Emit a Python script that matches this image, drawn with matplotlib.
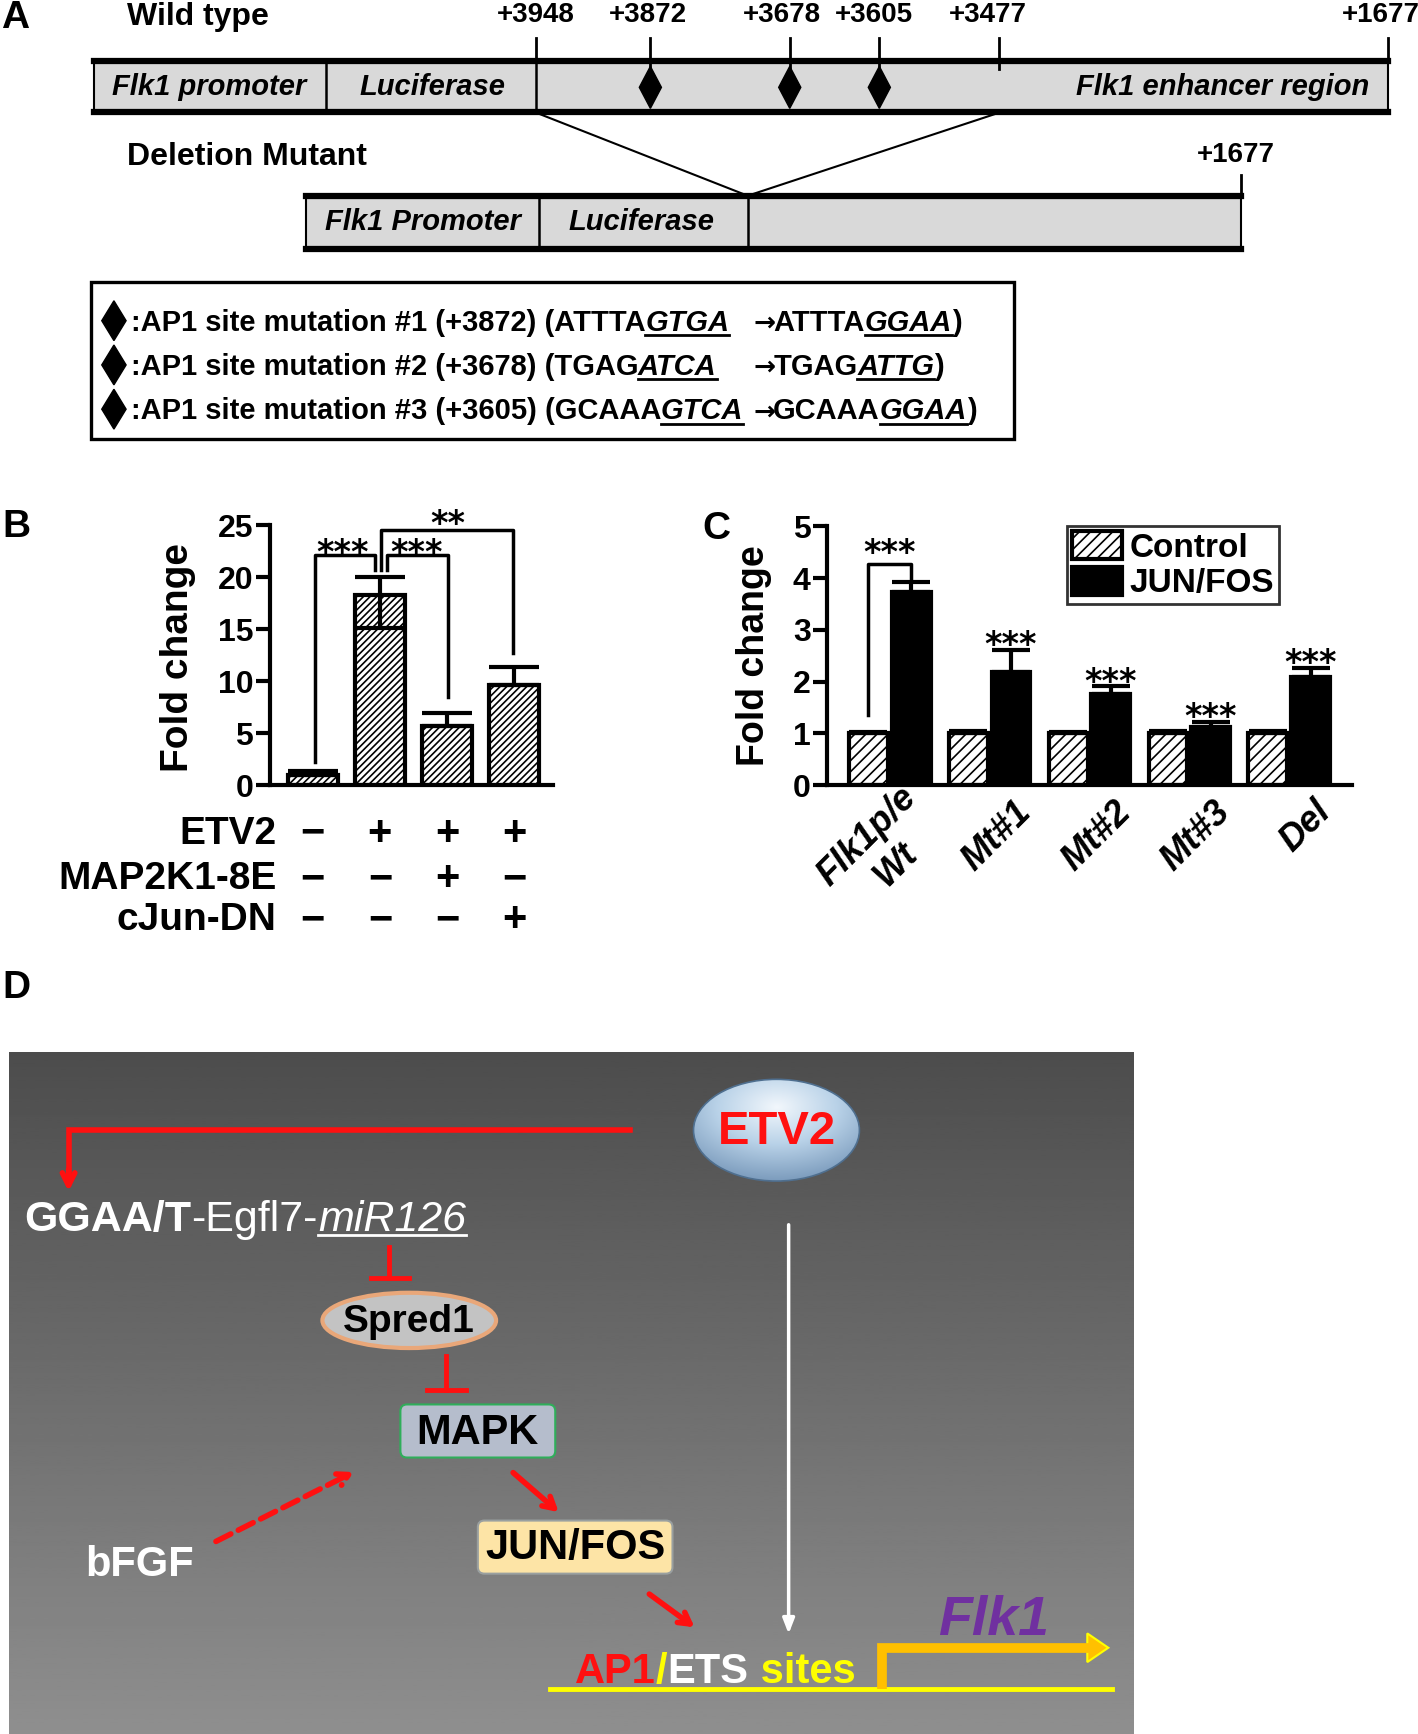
import numpy as np
import matplotlib
matplotlib.use("Agg")
import matplotlib.pyplot as plt
from matplotlib.patches import Rectangle, Polygon, Ellipse, FancyBboxPatch
from matplotlib.colors import LinearSegmentedColormap
from matplotlib.transforms import blended_transform_factory

plt.rcParams['font.family'] = ['Liberation Sans', 'DejaVu Sans']
plt.rcParams['hatch.linewidth'] = 1.2

# ---- data ----
# panel A: construct sites (labels) and AP1 mutations
wt_sites = ['+3948', '+3872', '+3678', '+3605', '+3477', '+1677']
ap1_sites = ['+3872', '+3678', '+3605']
mutations = [
    ('#1', '+3872', 'ATTTA', 'GTGA', 'ATTTA', 'GGAA'),
    ('#2', '+3678', 'TGAG', 'ATCA', 'TGAG', 'ATTG'),
    ('#3', '+3605', 'GCAAA', 'GTCA', 'GCAAA', 'GGAA'),
]

# panel B
b_values = [1.0, 18.3, 5.7, 9.6]
b_err_up = [0.4, 1.7, 1.2, 1.8]
b_err_down = [0.0, 3.2, 0.0, 0.0]
b_rows = ['ETV2', 'MAP2K1-8E', 'cJun-DN']
b_signs = [['\u2212', '+', '+', '+'],
           ['\u2212', '\u2212', '+', '\u2212'],
           ['\u2212', '\u2212', '\u2212', '+']]

# panel C
c_groups = ['Flk1p/e\nWt', 'Mt#1', 'Mt#2', 'Mt#3', 'Del']
c_control = [1.0, 1.0, 1.0, 1.0, 1.0]
c_control_err = [0.03, 0.05, 0.02, 0.05, 0.05]
c_junfos = [3.73, 2.18, 1.76, 1.13, 2.09]
c_junfos_err = [0.2, 0.43, 0.15, 0.1, 0.18]

# ---- figure, overlay axes in reference pixel units ----
W, H = 1282, 1568
fig = plt.figure(figsize=(14.18, 17.34), dpi=100)
ax0 = fig.add_axes([0, 0, 1, 1])
ax0.set_xlim(0, W)
ax0.set_ylim(H, 0)
ax0.axis('off')


def rect(l, t, r, b):
    return [l / W, 1 - b / H, (r - l) / W, (b - t) / H]


renderer = fig.canvas.get_renderer()


def chain(x, y, parts, size):
    inv = ax0.transData.inverted()
    for s, style, under in parts:
        t = ax0.text(x, y, s, fontsize=size, ha='left', va='baseline', **style)
        bb = t.get_window_extent(renderer=renderer)
        x_end = inv.transform((bb.x1, bb.y0))[0]
        if under:
            ax0.plot([x, x_end], [y + 4, y + 4], color=style.get('color', 'black'), lw=2)
        x = x_end
    return x


def diamond(x, yc, hw, hh):
    ax0.add_patch(Polygon([(x, yc - hh), (x + hw, yc), (x, yc + hh), (x - hw, yc)],
                          closed=True, fc='black', ec='black'))


def construct(x0, x1, y0, y1, dividers):
    ax0.add_patch(Rectangle((x0, y0), x1 - x0, y1 - y0, fc='#d9d9d9', ec='black', lw=1.5))
    for yy in (y0, y1):
        ax0.plot([x0, x1], [yy, yy], color='black', lw=4.5, solid_capstyle='projecting')
    for d in dividers:
        ax0.plot([d, d], [y0, y1], color='black', lw=1.8)


# ---- panel A ----
bold = dict(fontweight='bold')
bi = dict(fontweight='bold', fontstyle='italic')
ax0.text(14, 16, 'A', fontsize=28, ha='center', va='center', **bold)
ax0.text(115, 15, 'Wild type', fontsize=23, ha='left', va='center', **bold)

construct(85, 1255, 55, 101, [295, 485])
site_x = [485, 588, 714, 795, 903, 1255]
site_bottom = [55, 62, 62, 62, 62, 55]
label_x = [484, 586, 707, 790, 893, 1248]
for s, x, yb, lx in zip(wt_sites, site_x, site_bottom, label_x):
    ax0.plot([x, x], [34, yb], color='black', lw=2)
    ax0.text(lx, 14, s, fontsize=20, ha='center', va='center', **bold)
for s in ap1_sites:
    diamond(site_x[wt_sites.index(s)], 79, 10, 19)
ax0.text(189, 79, 'Flk1 promoter', fontsize=21, ha='center', va='center', **bi)
ax0.text(391, 79, 'Luciferase', fontsize=21, ha='center', va='center', **bi)
ax0.text(1238, 79, 'Flk1 enhancer region', fontsize=21, ha='right', va='center', **bi)

ax0.plot([485, 676, 903], [102, 177, 102], color='black', lw=1.5)
ax0.text(115, 142, 'Deletion Mutant', fontsize=23, ha='left', va='center', **bold)
ax0.text(1117, 140, wt_sites[-1], fontsize=20, ha='center', va='center', **bold)
ax0.plot([1122, 1122], [158, 177], color='black', lw=2)
construct(277, 1122, 177, 225, [487, 676])
ax0.text(382, 201, 'Flk1 Promoter', fontsize=21, ha='center', va='center', **bi)
ax0.text(580, 201, 'Luciferase', fontsize=21, ha='center', va='center', **bi)

ax0.add_patch(Rectangle((82, 255), 835, 142, fc='white', ec='black', lw=2.4))
arrow_style = dict(fontweight='bold', family='DejaVu Sans')
for i, (num, pos, pre, mut_a, pre2, mut_b) in enumerate(mutations):
    yc = 290 + 40 * i
    yb = yc + 9
    diamond(103, yc, 11, 18)
    x = chain(118, yb, [(':AP1 site mutation %s (%s) (%s' % (num, pos, pre), bold, False),
                        (mut_a, bi, True)], 21)
    x = max(x + 4, 681)
    x = chain(x, yb, [('\u2192', arrow_style, False)], 19)
    chain(x - 2, yb, [(pre2, bold, False), (mut_b, bi, True), (')', bold, False)], 21)

# ---- panel B ----
ax0.text(15, 477, 'B', fontsize=28, ha='center', va='center', **bold)
axb = fig.add_axes(rect(244, 475, 500, 710))
axb.set_facecolor('none')
xb = np.arange(len(b_values))
axb.bar(xb, b_values, width=0.74, color='white', edgecolor='black', lw=3,
        hatch='/////', zorder=2)
axb.errorbar(xb, b_values, yerr=[b_err_down, b_err_up], fmt='none', ecolor='black',
             elinewidth=3, capsize=18, capthick=3, zorder=3)
axb.set_xlim(-0.64, 3.58)
axb.set_ylim(0, 25)
axb.set_yticks([0, 5, 10, 15, 20, 25])
axb.set_xticks([])
for sp in ('top', 'right'):
    axb.spines[sp].set_visible(False)
for sp in ('left', 'bottom'):
    axb.spines[sp].set_linewidth(3)
axb.tick_params(axis='y', length=10, width=3, labelsize=23, pad=2)
for lab in axb.get_yticklabels():
    lab.set_fontweight('bold')
axb.set_ylabel('Fold change', fontsize=28, fontweight='bold')
axb.yaxis.set_label_coords(-0.26, 0.49)

bk = dict(color='black', lw=2.5, clip_on=False)
axb.plot([0.036, 0.036, 0.93, 0.93], [2.2, 22.1, 22.1, 20.7], **bk)
axb.plot([1.11, 1.11, 2.01, 2.01], [20.7, 22.1, 22.1, 8.5], **bk)
axb.plot([1.01, 1.01, 2.99, 2.99], [20.7, 24.5, 24.5, 12.7], **bk)
star = dict(fontsize=24, fontweight='bold', family='DejaVu Sans', ha='center',
            va='center', clip_on=False)
axb.text(0.45, 22.3, '***', **star)
axb.text(1.55, 22.3, '***', **star)
axb.text(2.01, 25.1, '**', **star)

trb = blended_transform_factory(axb.transData, ax0.transData)
for r, (row, signs) in enumerate(zip(b_rows, b_signs)):
    yy = [754, 795, 832][r]
    ax0.text(250, yy, row, fontsize=28, ha='right', va='center', **bold)
    for xi, s in zip(xb, signs):
        axb.text(xi, yy, s, transform=trb, fontsize=30, ha='center', va='center',
                 fontweight='bold', clip_on=False)

# ---- panel C ----
ax0.text(648, 478, 'C', fontsize=28, ha='center', va='center', **bold)
axc = fig.add_axes(rect(748, 476, 1222, 710))
axc.set_facecolor('none')
xc = np.arange(len(c_groups))
off = 0.214
axc.bar(xc - off, c_control, width=0.39, color='white', edgecolor='black', lw=3,
        hatch='///', label='Control', zorder=2)
axc.bar(xc + off, c_junfos, width=0.39, color='black', edgecolor='black', lw=3,
        label='JUN/FOS', zorder=2)
axc.errorbar(xc - off, c_control, yerr=[[0] * 5, c_control_err], fmt='none', ecolor='black',
             elinewidth=3, capsize=14, capthick=3, zorder=3)
axc.errorbar(xc + off, c_junfos, yerr=[[0] * 5, c_junfos_err], fmt='none', ecolor='black',
             elinewidth=3, capsize=14, capthick=3, zorder=3)
axc.set_xlim(-0.625, 4.625)
axc.set_ylim(0, 5)
axc.set_yticks([0, 1, 2, 3, 4, 5])
axc.set_xticks([])
for sp in ('top', 'right'):
    axc.spines[sp].set_visible(False)
for sp in ('left', 'bottom'):
    axc.spines[sp].set_linewidth(3)
axc.tick_params(axis='y', length=10, width=3, labelsize=23, pad=2)
for lab in axc.get_yticklabels():
    lab.set_fontweight('bold')
axc.set_ylabel('Fold change', fontsize=27, fontweight='bold')
axc.yaxis.set_label_coords(-0.105, 0.5)
for g, lab in zip(xc, c_groups):
    axc.text(g + 0.36, -0.42, lab, rotation=45, rotation_mode='anchor', ha='right',
             va='center', multialignment='center', fontsize=26, fontweight='bold',
             fontstyle='italic', clip_on=False)
axc.plot([-off, -off, off, off], [1.35, 4.27, 4.27, 4.01], **bk)
axc.text(0, 4.47, '***', **star)
for g in xc[1:]:
    axc.text(g + off, c_junfos[g] + c_junfos_err[g] + 0.08, '***', **star)
leg = axc.legend(loc='upper left', bbox_to_anchor=(0.458, 1.0), frameon=True,
                 fancybox=False, edgecolor='black', handlelength=1.5, handleheight=0.9,
                 handletextpad=0.2, borderpad=0.15, labelspacing=0.1, borderaxespad=0,
                 prop=dict(size=24, weight='bold'))
leg.get_frame().set_linewidth(2)

# ---- panel D ----
ax0.text(15, 893, 'D', fontsize=28, ha='center', va='center', **bold)
grad = np.linspace(0.30, 0.56, 256).reshape(-1, 1)
ax0.imshow(grad, cmap='gray', vmin=0, vmax=1, extent=(8, 1025, 1568, 952),
           aspect='auto', origin='upper', zorder=0)

red = '#ff1010'
ax0.plot([570, 62, 62], [1022, 1022, 1060], color=red, lw=4, solid_joinstyle='miter')
ax0.annotate('', xy=(62, 1080), xytext=(62, 1055),
             arrowprops=dict(arrowstyle='->,head_length=0.9,head_width=0.45', color=red, lw=4))

# ETV2 sphere with a soft radial shading
ell = Ellipse((702, 1022), 150, 92, fc='none', ec='#4f6f8f', lw=1.2, zorder=4)
ax0.add_patch(ell)
yy, xx = np.mgrid[-1:1:200j, -1:1:200j]
shade = np.clip(np.sqrt(xx ** 2 + (yy + 0.45) ** 2) / 1.45, 0, 1)
sphere = LinearSegmentedColormap.from_list('sphere', ['#f2f7fc', '#b9d2e8', '#7c9cbd'])
im = ax0.imshow(shade, cmap=sphere, vmin=0, vmax=1, extent=(627, 777, 1068, 976),
                aspect='auto', origin='upper', zorder=3)
im.set_clip_path(ell)
ax0.text(702, 1024, 'ETV2', fontsize=34, color=red, ha='center', va='center', zorder=5, **bold)
ax0.set_xlim(0, W)
ax0.set_ylim(H, 0)

chain(22, 1113, [('GGAA/T', dict(color='white', fontweight='bold'), False),
                 ('-Egfl7-', dict(color='white'), False),
                 ('miR126', dict(color='white', fontstyle='italic'), True)], 31)

inh = dict(color=red, lw=3.5)
ax0.plot([352, 352], [1128, 1156], **inh)
ax0.plot([335, 370], [1156, 1156], **inh)
ax0.add_patch(Ellipse((370, 1194), 157, 50, fc='#c3c3c3', ec='#e9a779', lw=3, zorder=3))
ax0.text(370, 1195, 'Spred1', fontsize=28, ha='center', va='center', zorder=4, **bold)
ax0.plot([403, 403], [1226, 1257], **inh)
ax0.plot([386, 421], [1257, 1257], **inh)

ax0.add_patch(FancyBboxPatch((362, 1270), 140, 48, boxstyle='round,pad=0,rounding_size=6',
                             fc='#b5bdcc', ec='#2fae5a', lw=1.5, zorder=3))
ax0.text(432, 1296, 'MAPK', fontsize=30, ha='center', va='center', zorder=4, **bold)
ax0.add_patch(FancyBboxPatch((432, 1375), 176, 48, boxstyle='round,pad=0,rounding_size=6',
                             fc='#fde4a6', ec='#9aa0a0', lw=1.5, zorder=3))
ax0.text(520, 1400, 'JUN/FOS', fontsize=30, ha='center', va='center', zorder=4, **bold)

arr = dict(arrowstyle='->,head_length=0.8,head_width=0.45', color=red, lw=4)
ax0.annotate('', xy=(507, 1369), xytext=(462, 1330), arrowprops=arr)
ax0.annotate('', xy=(630, 1473), xytext=(585, 1440), arrowprops=arr)
ax0.annotate('', xy=(322, 1330), xytext=(193, 1395),
             arrowprops=dict(arrowstyle='->,head_length=0.8,head_width=0.45', color=red,
                             lw=4, linestyle=(0, (3, 1.5))))
ax0.text(77, 1415, 'bFGF', fontsize=30, color='white', ha='left', va='center', **bold)

ax0.annotate('', xy=(713, 1480), xytext=(713, 1105),
             arrowprops=dict(arrowstyle='-|>,head_length=0.9,head_width=0.35', color='white',
                             lw=2.5))

ax0.plot([497, 1005], [1527, 1527], color='#ffff00', lw=3.5)
chain(520, 1522, [('AP1', dict(color=red, fontweight='bold'), False),
                  ('/', dict(color='#ffff00', fontweight='bold'), False),
                  ('ETS', dict(color='white', fontweight='bold'), False),
                  (' sites', dict(color='#ffff00', fontweight='bold'), False)], 30)
ax0.plot([797, 797, 985], [1527, 1490, 1490], color='#ffc000', lw=7,
         solid_joinstyle='miter', solid_capstyle='butt')
ax0.add_patch(Polygon([(983, 1477), (1002, 1490), (983, 1503)], closed=True,
                      fc='#ffc000', ec='#ffff00', lw=1.5))
ax0.text(898, 1466, 'Flk1', fontsize=40, color='#7030a0', ha='center', va='center', **bi)

fig.savefig('out.png', dpi=100)
